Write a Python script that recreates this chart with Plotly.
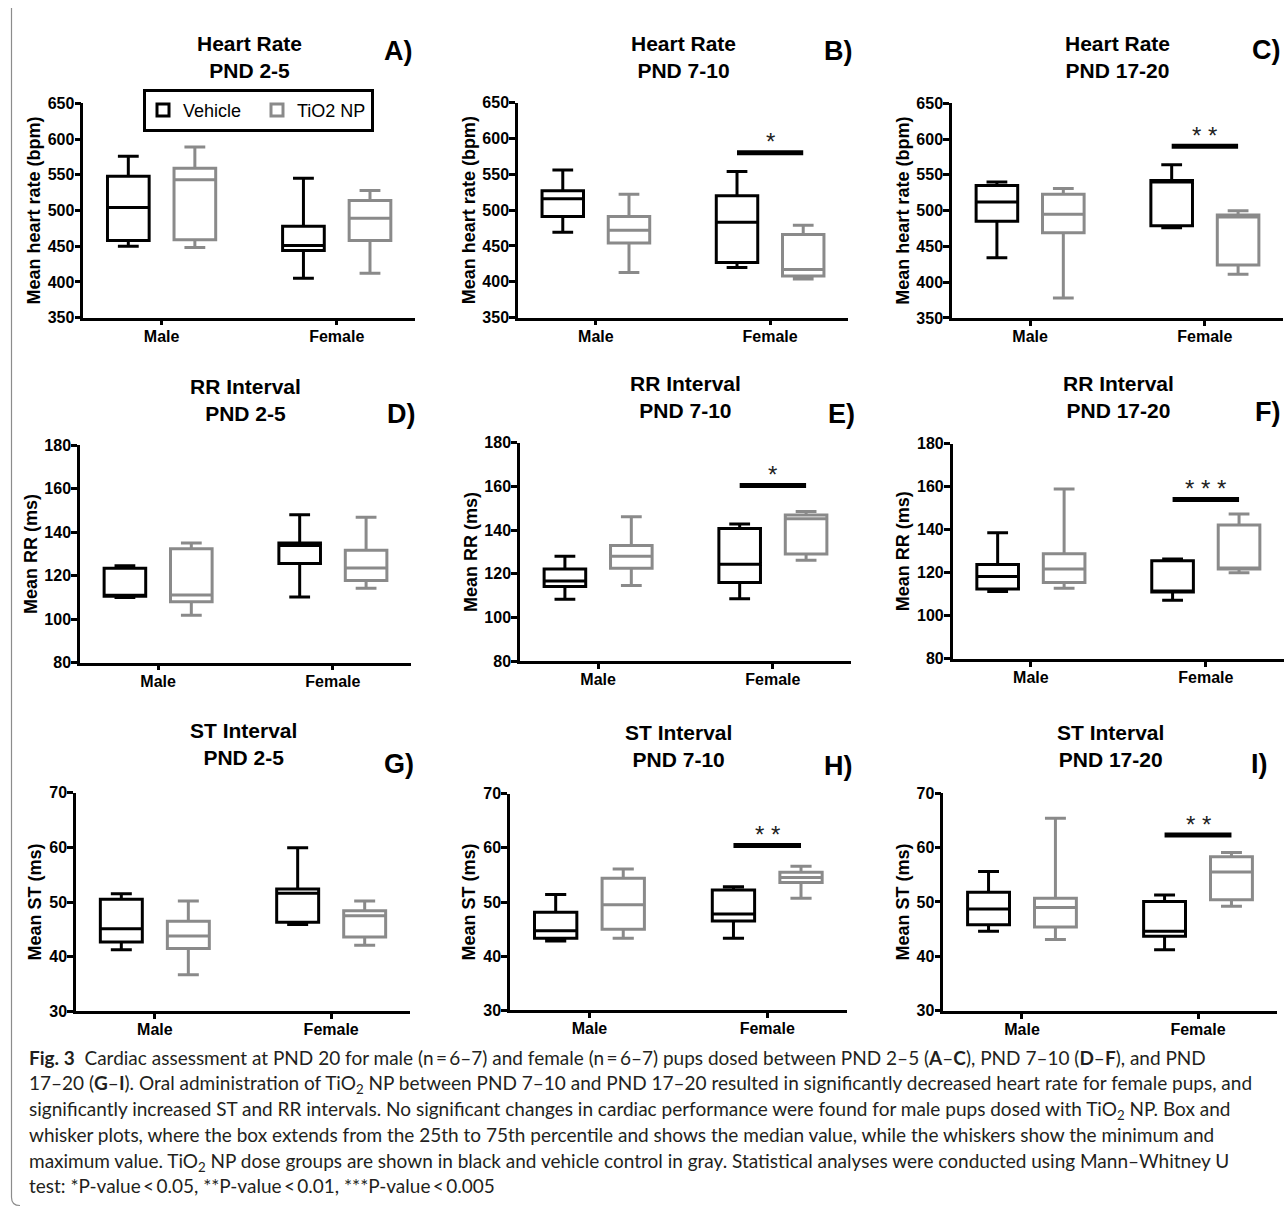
import plotly.graph_objects as go

W, H = 1284, 1215

SEXES = ["Male", "Female"]
SEX_POS = [0, 1]
GROUPS = ["Vehicle", "TiO2 NP"]

# Five-number summaries per sex (Male, Female): [min, q1, median, q3, max]
HR_2_5_VEHICLE = [[450, 458, 504, 548, 576], [405, 444, 451, 478, 545]]
HR_2_5_TIO2 = [[448, 459, 543, 559, 589], [412, 458, 489, 514, 528]]
HR_7_10_VEHICLE = [[469, 491, 516, 527, 556], [420, 427, 483, 520, 554]]
HR_7_10_TIO2 = [[413, 454, 472, 491, 522], [404, 408, 417, 466, 479]]
HR_17_20_VEHICLE = [[434, 485, 512, 535, 540], [476, 479, 540, 542, 564]]
HR_17_20_TIO2 = [[378, 469, 495, 523, 531], [411, 424, 491, 494, 500]]

RR_2_5_VEHICLE = [[110.0, 110.5, 111.0, 123.4, 124.6], [110.2, 125.6, 133.9, 135.0, 148.0]]
RR_2_5_TIO2 = [[101.8, 108.0, 111.1, 132.4, 135.0], [114.2, 117.8, 123.5, 131.7, 146.9]]
RR_7_10_VEHICLE = [[108.3, 114.2, 116.7, 122.2, 128.0], [108.5, 116.0, 124.3, 140.7, 142.8]]
RR_7_10_TIO2 = [[114.6, 122.5, 128.0, 132.9, 146.1], [126.2, 129.0, 145.2, 146.9, 148.5]]
RR_17_20_VEHICLE = [[111.3, 112.4, 118.2, 123.8, 138.5], [107.2, 111.0, 111.5, 125.5, 126.4]]
RR_17_20_TIO2 = [[112.8, 115.4, 121.7, 128.8, 158.9], [120.0, 121.7, 122.0, 142.1, 147.2]]

ST_2_5_VEHICLE = [[41.3, 42.7, 45.1, 50.5, 51.5], [45.9, 46.3, 51.6, 52.4, 59.9]]
ST_2_5_TIO2 = [[36.7, 41.5, 43.8, 46.5, 50.2], [42.1, 43.6, 47.5, 48.4, 50.2]]
ST_7_10_VEHICLE = [[42.8, 43.3, 44.7, 48.1, 51.4], [43.3, 46.5, 47.8, 52.2, 52.8]]
ST_7_10_TIO2 = [[43.3, 45.0, 49.5, 54.4, 56.1], [50.7, 53.6, 54.5, 55.5, 56.6]]
ST_17_20_VEHICLE = [[44.6, 45.8, 48.7, 51.8, 55.6], [41.2, 43.7, 44.6, 50.1, 51.3]]
ST_17_20_TIO2 = [[43.1, 45.4, 49.0, 50.7, 65.4], [49.2, 50.4, 55.5, 58.3, 59.1]]

# Female Vehicle vs TiO2 NP comparisons: bar height and significance stars
HR_SIG_Y = [None, 580, 590]
HR_SIG_STARS = [None, "*", "* *"]
RR_SIG_Y = [None, 160.4, 154]
RR_SIG_STARS = [None, "*", "* * *"]
ST_SIG_Y = [None, 60.4, 62.3]
ST_SIG_STARS = [None, "* *", "* *"]

WINDOWS = ["PND 2-5", "PND 7-10", "PND 17-20"]

CAPTION_LINES = [
    "<b>Fig. 3</b>\u00a0\u00a0Cardiac assessment at PND 20 for male (n\u2009=\u20096–7) and female (n\u2009=\u20096–7) "
    "pups dosed between PND 2–5 (<b>A</b>–<b>C</b>), PND 7–10 (<b>D</b>–<b>F</b>), and PND",
    "17–20 (<b>G</b>–<b>I</b>). Oral administration of TiO<sub>2</sub> NP between PND 7–10 and PND 17–20 "
    "resulted in significantly decreased heart rate for female pups, and",
    "significantly increased ST and RR intervals. No significant changes in cardiac performance were found "
    "for male pups dosed with TiO<sub>2</sub> NP. Box and",
    "whisker plots, where the box extends from the 25th to 75th percentile and shows the median value, "
    "while the whiskers show the minimum and",
    "maximum value. TiO<sub>2</sub> NP dose groups are shown in black and vehicle control in gray. "
    "Statistical analyses were conducted using Mann–Whitney U",
    "test: *P-value\u2009<\u20090.05, **P-value\u2009<\u20090.01, ***P-value\u2009<\u20090.005",
]

# ---- styling / layout --------------------------------------------------------
FONT = "Liberation Sans, Arial, sans-serif"
CAPTION_FONT = "Lato, Noto Sans, sans-serif"
COLORS = {"Vehicle": "#000000", "TiO2 NP": "#8a8a8a"}
GROUP_OFFSET = {"Vehicle": -0.19, "TiO2 NP": 0.19}
BOX_WIDTH = 0.238
X_RANGE = [-0.447, 1.447]

# plot rectangles in pixels: (left, right, top, bottom)
PANEL_RECTS = [
    (83.3, 415, 96.7, 314), (518, 848, 96, 314), (952, 1283, 96.7, 314.3),
    (80, 411, 443.3, 664), (520, 851, 441, 662.3), (952.7, 1284, 441.7, 660),
    (76, 410, 795.7, 1017.7), (510, 846.7, 796.7, 1016.7), (943.3, 1276.7, 796.3, 1017),
]
TITLE_Y = [50, 50, 50, 397.5, 394.5, 395, 746.5, 748.5, 748.5]
LETTERS = ["A)", "B)", "C)", "D)", "E)", "F)", "G)", "H)", "I)"]
LETTER_XY = [(398, 44), (838, 44), (1266, 43), (401, 412), (841, 412), (1267, 410),
             (399, 767), (838, 769), (1259, 767)]
CAPTION_CAP_Y = [1064, 1089, 1115, 1142, 1168, 1194]

ROWS = [
    dict(measure="Heart Rate", ytitle="Mean heart rate (bpm)", yrange=[350, 650], dtick=50,
         vehicle=[HR_2_5_VEHICLE, HR_7_10_VEHICLE, HR_17_20_VEHICLE],
         tio2=[HR_2_5_TIO2, HR_7_10_TIO2, HR_17_20_TIO2], sig_y=HR_SIG_Y, sig=HR_SIG_STARS),
    dict(measure="RR Interval", ytitle="Mean RR (ms)", yrange=[80, 180], dtick=20,
         vehicle=[RR_2_5_VEHICLE, RR_7_10_VEHICLE, RR_17_20_VEHICLE],
         tio2=[RR_2_5_TIO2, RR_7_10_TIO2, RR_17_20_TIO2], sig_y=RR_SIG_Y, sig=RR_SIG_STARS),
    dict(measure="ST Interval", ytitle="Mean ST (ms)", yrange=[30, 70], dtick=10,
         vehicle=[ST_2_5_VEHICLE, ST_7_10_VEHICLE, ST_17_20_VEHICLE],
         tio2=[ST_2_5_TIO2, ST_7_10_TIO2, ST_17_20_TIO2], sig_y=ST_SIG_Y, sig=ST_SIG_STARS),
]


def px_x(x):
    return x / W


def px_y(y):
    return 1 - y / H


fig = go.Figure()
layout = dict(
    width=W, height=H, autosize=False,
    margin=dict(l=0, r=0, t=0, b=0),
    paper_bgcolor="white", plot_bgcolor="white",
    font=dict(family=FONT, color="black"),
    showlegend=True,
    boxmode="overlay",
    legend=dict(
        x=px_x(143), y=px_y(82), xanchor="left", yanchor="top",
        orientation="h", bordercolor="black", borderwidth=3, bgcolor="white",
        font=dict(family=FONT, size=18, color="black"),
        itemwidth=30, tracegroupgap=0, entrywidth=69, entrywidthmode="pixels",
    ),
)
shapes = []
annotations = []

for r, row in enumerate(ROWS):
    for c in range(3):
        i = r * 3 + c
        n = "" if i == 0 else str(i + 1)
        xref, yref = "x" + n, "y" + n
        left, right, top, bottom = PANEL_RECTS[i]

        layout["xaxis" + n] = dict(
            domain=[px_x(left), px_x(right)], anchor=yref, range=X_RANGE,
            tickmode="array", tickvals=SEX_POS, ticktext=SEXES,
            showline=True, linecolor="black", linewidth=2.5,
            ticks="outside", ticklen=5, tickwidth=2.5, tickcolor="black",
            ticklabelstandoff=-3,
            showgrid=False, zeroline=False, fixedrange=True,
            tickfont=dict(family=FONT, size=16, weight="bold", color="black"),
        )
        layout["yaxis" + n] = dict(
            domain=[px_y(bottom), px_y(top)], anchor=xref, range=row["yrange"],
            dtick=row["dtick"], tick0=row["yrange"][0],
            showline=True, linecolor="black", linewidth=2.5,
            ticks="outside", ticklen=6, tickwidth=2.5, tickcolor="black",
            ticklabelstandoff=-3,
            showgrid=False, zeroline=False, fixedrange=True,
            tickfont=dict(family=FONT, size=16, weight="bold", color="black"),
            title=dict(text=row["ytitle"], standoff=3,
                       font=dict(family=FONT, size=18, weight="bold", color="black")),
        )

        for group, stats in (("Vehicle", row["vehicle"][c]), ("TiO2 NP", row["tio2"][c])):
            fig.add_trace(go.Box(
                x=[p + GROUP_OFFSET[group] for p in SEX_POS],
                lowerfence=[s[0] for s in stats],
                q1=[s[1] for s in stats],
                median=[s[2] for s in stats],
                q3=[s[3] for s in stats],
                upperfence=[s[4] for s in stats],
                width=BOX_WIDTH, whiskerwidth=0.5, boxpoints=False,
                line=dict(color=COLORS[group], width=3), fillcolor="white",
                name=group, legendgroup=group, showlegend=(i == 0),
                hoverinfo="skip", xaxis=xref, yaxis=yref,
            ))

        # significance bar between Female Vehicle and Female TiO2 NP
        sig_y = row["sig_y"][c]
        if sig_y is not None:
            female = SEX_POS[1]
            shapes.append(dict(
                type="line", xref=xref, yref=yref,
                x0=female + GROUP_OFFSET["Vehicle"], x1=female + GROUP_OFFSET["TiO2 NP"],
                y0=sig_y, y1=sig_y, line=dict(color="black", width=5),
            ))
            annotations.append(dict(
                xref=xref, yref=yref, x=female, y=sig_y, text=row["sig"][c],
                showarrow=False, yanchor="middle", yshift=11,
                font=dict(family=FONT, size=24, color="#222222"),
            ))

        # panel title and letter
        annotations.append(dict(
            xref="paper", yref="paper", x=px_x((left + right) / 2), y=px_y(TITLE_Y[i]),
            text=row["measure"] + "<br>" + WINDOWS[c], showarrow=False,
            xanchor="center", yanchor="middle", align="center",
            font=dict(family=FONT, size=21, weight="bold", color="black"),
        ))
        lx, ly = LETTER_XY[i]
        annotations.append(dict(
            xref="paper", yref="paper", x=px_x(lx), y=px_y(ly), text=LETTERS[i],
            showarrow=False, xanchor="center", yanchor="middle",
            font=dict(family=FONT, size=27, weight="bold", color="black"),
        ))

# caption, one annotation per printed line (top-anchored so subscripts keep the baseline)
for text, yc in zip(CAPTION_LINES, CAPTION_CAP_Y):
    annotations.append(dict(
        xref="paper", yref="paper", x=px_x(27), y=px_y(yc - 13), text=text,
        showarrow=False, xanchor="left", yanchor="top", align="left",
        font=dict(family=CAPTION_FONT, size=19, color="#231f20"),
    ))

# frame edge on the left with a rounded bottom corner
frame_path = "M {x0},{y0} L {x0},{y1} Q {x0},{y2} {x3},{y2}".format(
    x0=px_x(11.5), y0=px_y(0), y1=px_y(1206), y2=px_y(1214.5), x3=px_x(20))
shapes.append(dict(type="path", xref="paper", yref="paper", path=frame_path,
                   line=dict(color="#8c8c8c", width=1.2)))

layout["shapes"] = shapes
layout["annotations"] = annotations
fig.update_layout(**layout)

fig.write_html("out.html")
